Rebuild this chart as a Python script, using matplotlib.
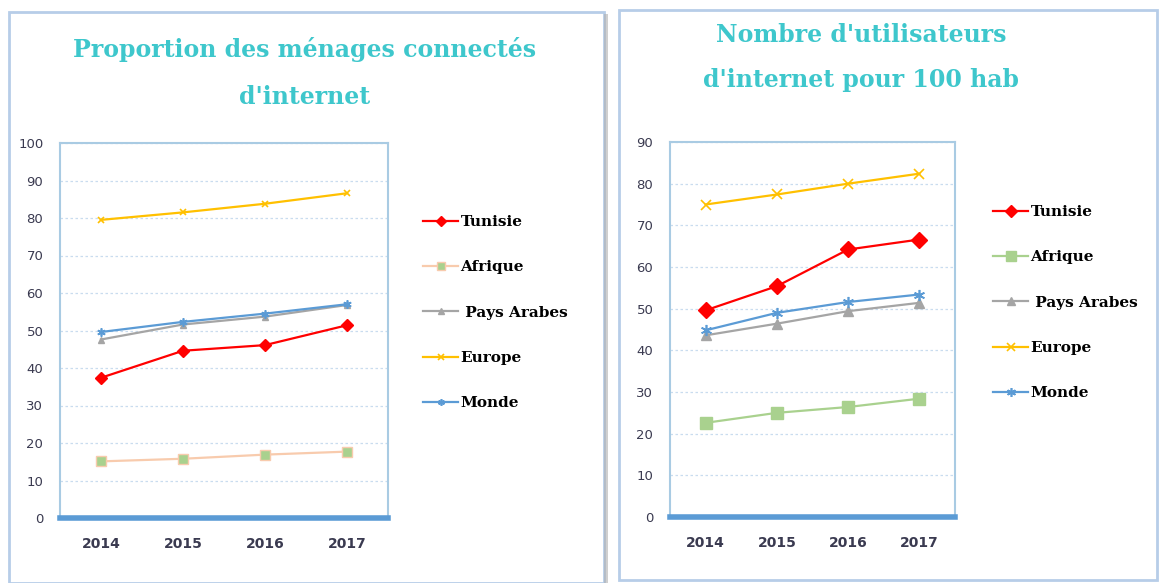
import matplotlib.pyplot as plt
import numpy as np
from matplotlib.patches import Rectangle

#------------ donnees ----------
annees = ['2014', '2015', '2016', '2017']
series = ['Tunisie', 'Afrique', ' Pays Arabes', 'Europe', 'Monde']

# Proportion des menages connectes d'internet
menages_tunisie = [37.4, 44.6, 46.1, 51.4]
menages_afrique = [15.1, 15.8, 16.9, 17.7]
menages_arabes = [47.6, 51.6, 53.7, 56.8]
menages_europe = [79.5, 81.5, 83.8, 86.6]
menages_monde = [49.6, 52.3, 54.5, 57.0]

# Nombre d'utilisateurs d'internet pour 100 hab
users_tunisie = [49.6, 55.4, 64.2, 66.6]
users_afrique = [22.6, 25.0, 26.4, 28.4]
users_arabes = [43.6, 46.4, 49.4, 51.4]
users_europe = [75.0, 77.4, 80.0, 82.4]
users_monde = [44.8, 49.0, 51.6, 53.4]

titre_gauche = ["Proportion des ménages connectés", "d'internet"]
titre_droite = ["Nombre d'utilisateurs", "d'internet pour 100 hab"]

#------------ styles ----------
turquoise = '#3ec7cc'
cadre = '#b7cde8'
bleu_axe = '#5b9bd5'
serif = ['DejaVu Serif']
W, H = 1161., 583.

fig = plt.figure(figsize=(11.61, 5.83), dpi=100)

# cadres des deux panneaux (avec ombre)
fig.patches.append(Rectangle((9/W, 0), 595/W, 571/H, transform=fig.transFigure,
                             fill=False, ec=cadre, lw=2))
fig.patches.append(Rectangle((604/W, 0), 4/W, 569/H, transform=fig.transFigure,
                             fc='#b0b0b0', ec='none', alpha=0.6))
fig.patches.append(Rectangle((619/W, 3/H), 538/W, 570/H, transform=fig.transFigure,
                             fill=False, ec=cadre, lw=2))


def trace(rect, donnees, ymax, afrique_style, msize, titre, titre_x, titre_y, leg_xy):
  ax = fig.add_axes(rect)
  x = np.arange(len(annees))
  tun, afr, ara, eur, mon = donnees
  ax.plot(x, tun, color='red', lw=1.6, marker='D', ms=msize, label=series[0], zorder=5)
  ax.plot(x, afr, label=series[1], zorder=4, **afrique_style)
  ax.plot(x, ara, color='#a5a5a5', lw=1.6, marker='^', ms=msize-1, label=series[2], zorder=3)
  ax.plot(x, eur, color='#ffc000', lw=1.6, marker='x', ms=msize-1, mew=1.2, label=series[3], zorder=3)
  ax.plot(x, mon, color=bleu_axe, lw=1.6, marker=(6, 2, 0), ms=msize, mew=1.2, label=series[4], zorder=4)

  ax.set_xlim(-0.5, len(annees)-0.5)
  ax.set_ylim(0, ymax)
  ax.set_yticks(np.arange(0, ymax+1, 10))
  ax.set_xticks(x)
  ax.set_xticklabels(annees, fontsize=10, fontweight='bold', color='#3a3a50')
  ax.tick_params(axis='y', length=0, pad=12, labelsize=9.5, labelcolor='#3a3a50')
  ax.tick_params(axis='x', length=0, pad=14)
  ax.grid(axis='y', ls=(0, (2, 2)), color='#c9dcef', lw=0.9)
  for s in ['left', 'right', 'top']:
    ax.spines[s].set_color('#a9cbe3')
    ax.spines[s].set_linewidth(1.5)
  ax.spines['bottom'].set_color(bleu_axe)
  ax.spines['bottom'].set_linewidth(4)

  for ligne, y in zip(titre, titre_y):
    fig.text(titre_x/W, 1-y/H, ligne, ha='center', va='center', color=turquoise,
             fontsize=17, fontweight='bold', family=serif)

  fig.legend(loc='upper left', bbox_to_anchor=(leg_xy[0]/W, 1-leg_xy[1]/H), frameon=False,
             handles=ax.get_lines(), handlelength=2.3, labelspacing=2.05, markerscale=0.8,
             handletextpad=0.15, borderaxespad=0, borderpad=0,
             prop={'family': serif, 'weight': 'bold', 'size': 11})
  return ax


trace([60/W, 1-518/H, 328/W, 375/H],
      [menages_tunisie, menages_afrique, menages_arabes, menages_europe, menages_monde],
      100, dict(color='#f8cbad', lw=1.6, marker='s', ms=7, mfc='#a9d18e', mec='#f8cbad'), 6,
      titre_gauche, 305, (50, 97), (423, 215))

trace([670/W, 1-517/H, 285/W, 375/H],
      [users_tunisie, users_afrique, users_arabes, users_europe, users_monde],
      90, dict(color='#a9d18e', lw=1.6, marker='s', ms=9, mfc='#a9d18e', mec='#a9d18e'), 8,
      titre_droite, 861, (35, 80), (993, 205))

fig.savefig('out.png', dpi=100)
